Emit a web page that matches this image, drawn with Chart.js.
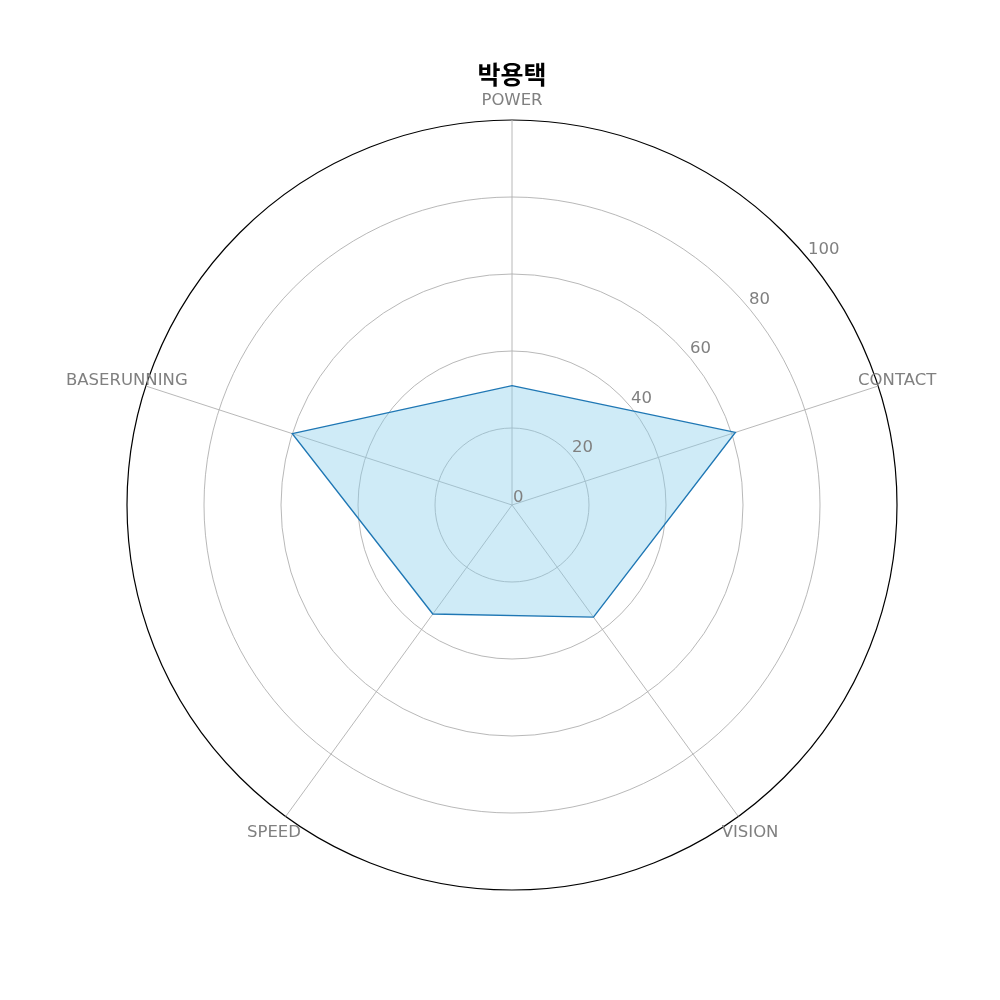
<!DOCTYPE html>
<html>
<head>
<meta charset="utf-8">
<script src="https://cdn.jsdelivr.net/npm/chart.js@4/dist/chart.umd.min.js"></script>
<style>
  html, body { margin: 0; padding: 0; background: #fff; }
  canvas { display: block; }
</style>
</head>
<body>
<canvas id="c" width="1000" height="1000"></canvas>
<script>
const titleText = '박용택';
const categories = ['POWER', 'CONTACT', 'VISION', 'SPEED', 'BASERUNNING'];
const values = [31, 61, 36, 35, 60];
const tickValues = [0, 20, 40, 60, 80, 100];

const labelFont = '16.5px "DejaVu Sans"';
const labelColor = '#808080';

const overlayPlugin = {
  id: 'overlayLabels',
  afterDatasetsDraw(chart) {
    const scale = chart.scales.r;
    const ctx = chart.ctx;
    ctx.save();
    ctx.font = labelFont;
    ctx.fillStyle = labelColor;
    // radial tick labels along a ray ~50 degrees clockwise from the top
    const rayAngle = 50 * Math.PI / 180;
    ctx.textAlign = 'left';
    ctx.textBaseline = 'alphabetic';
    tickValues.forEach(v => {
      const d = scale.getDistanceFromCenterForValue(v);
      const p = scale.getPointPosition(0, d, rayAngle);
      ctx.fillText(String(v), p.x + 1, p.y - 3.5);
    });
    // category labels, centred just outside the outer circle
    ctx.textAlign = 'center';
    ctx.textBaseline = 'middle';
    categories.forEach((c, i) => {
      const p = scale.getPointPosition(i, scale.drawingArea + 20);
      ctx.fillText(c, p.x, p.y + 0.5);
    });
    ctx.restore();
  }
};

new Chart(document.getElementById('c'), {
  type: 'radar',
  data: {
    labels: categories,
    datasets: [{
      data: values,
      fill: true,
      backgroundColor: 'rgba(135,206,235,0.4)',
      borderColor: '#1f77b4',
      borderWidth: 1.4,
      pointRadius: 0,
      pointHoverRadius: 0,
      tension: 0
    }]
  },
  options: {
    responsive: false,
    animation: false,
    devicePixelRatio: 1,
    layout: {
      autoPadding: false,
      padding: { left: 127, right: 103, top: 0, bottom: 110 }
    },
    plugins: {
      legend: { display: false },
      tooltip: { enabled: false },
      title: {
        display: true,
        text: titleText,
        color: '#000',
        font: { family: '"Noto Sans CJK KR", "DejaVu Sans"', size: 25, weight: 'bold', lineHeight: 1.2 },
        padding: { top: 59, bottom: 31 }
      }
    },
    scales: {
      r: {
        min: 0,
        max: 100,
        ticks: { display: false, stepSize: 20 },
        pointLabels: { display: false },
        grid: {
          circular: true,
          color: (ctx) => (ctx.tick && ctx.tick.value === 100) ? '#000000' : '#b0b0b0',
          lineWidth: (ctx) => (ctx.tick && ctx.tick.value === 100) ? 1.2 : 0.9
        },
        angleLines: { display: true, color: '#b0b0b0', lineWidth: 0.9 }
      }
    }
  },
  plugins: [overlayPlugin]
});
</script>
</body>
</html>
